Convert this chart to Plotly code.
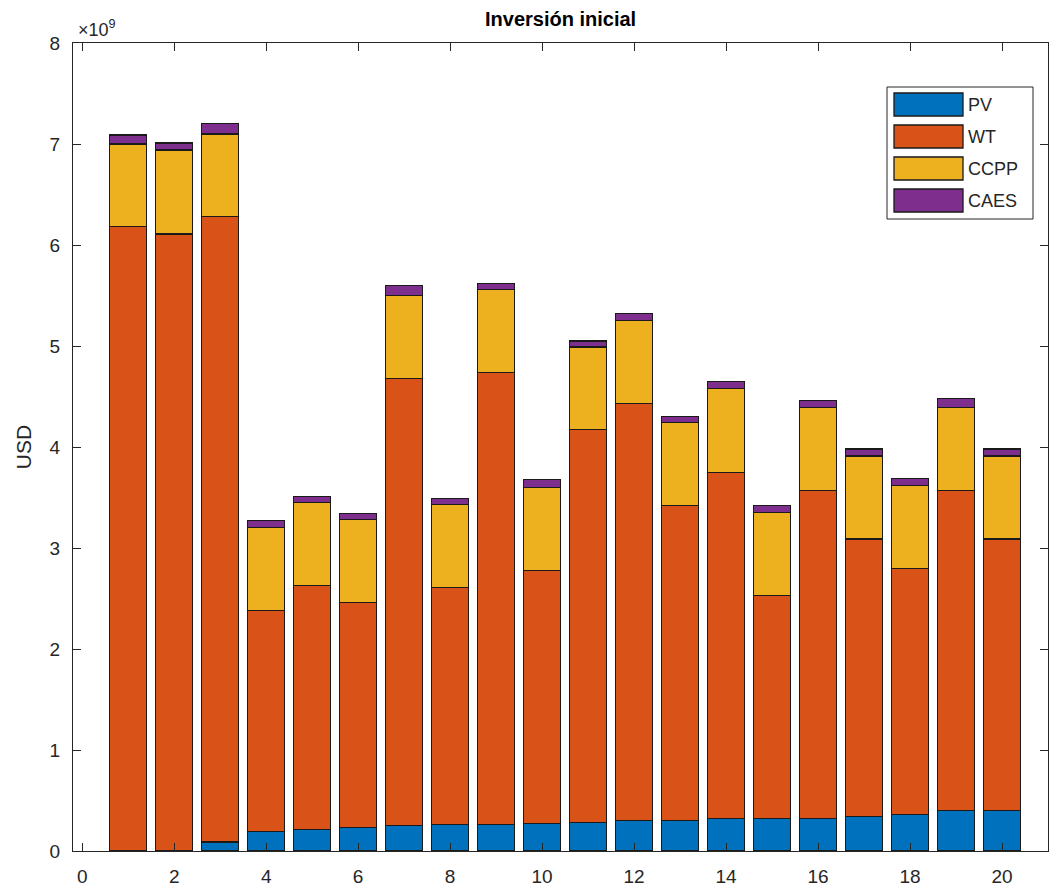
import plotly.graph_objects as go

# Initial investment per scenario, in units of 1e9 USD
scenarios = list(range(1, 21))
pv = [0.00, 0.00, 0.09, 0.19, 0.21, 0.23, 0.25, 0.26, 0.26, 0.27,
      0.28, 0.30, 0.30, 0.32, 0.32, 0.32, 0.34, 0.36, 0.40, 0.40]
wt = [6.18, 6.11, 6.19, 2.19, 2.42, 2.23, 4.43, 2.35, 4.48, 2.51,
      3.89, 4.13, 3.12, 3.43, 2.21, 3.25, 2.75, 2.44, 3.17, 2.69]
ccpp = [0.82, 0.83, 0.82, 0.82, 0.82, 0.82, 0.82, 0.82, 0.82, 0.82,
        0.82, 0.82, 0.82, 0.83, 0.82, 0.82, 0.82, 0.82, 0.82, 0.82]
caes = [0.09, 0.07, 0.10, 0.07, 0.06, 0.06, 0.10, 0.06, 0.06, 0.08,
        0.06, 0.07, 0.06, 0.07, 0.07, 0.07, 0.07, 0.07, 0.09, 0.07]

series_names = ["PV", "WT", "CCPP", "CAES"]
series_colors = ["#0072BD", "#D95319", "#EDB120", "#7E2F8E"]
x_ticks = list(range(0, 21, 2))
y_ticks = list(range(0, 9))

W, H = 1050, 895
L, R, T, B = 73, 2, 43, 44
AX = "#262626"
FONT = "Liberation Sans, Arial, sans-serif"

fig = go.Figure()
for name, vals, col in zip(series_names, [pv, wt, ccpp, caes], series_colors):
    fig.add_trace(go.Bar(
        x=scenarios, y=vals, name=name, width=0.8,
        marker=dict(color=col, line=dict(color="#1a1a1a", width=1.3)),
        showlegend=False,
    ))

fig.update_layout(
    width=W, height=H, barmode="stack",
    margin=dict(l=L, r=R, t=T, b=B, pad=0),
    paper_bgcolor="white", plot_bgcolor="white",
    font=dict(family=FONT, color=AX, size=19),
    xaxis=dict(range=[-0.2, 21], tickvals=x_ticks, ticks="inside", ticklen=8,
               tickcolor=AX, showline=True, linecolor=AX, linewidth=1.2,
               mirror="ticks", showgrid=False, zeroline=False,
               ticklabelstandoff=8,
               tickfont=dict(size=19, color=AX)),
    yaxis=dict(range=[0, 8], tickvals=y_ticks, ticks="inside", ticklen=8,
               tickcolor=AX, showline=True, linecolor=AX, linewidth=1.2,
               mirror="ticks", showgrid=False, zeroline=False,
               ticklabelstandoff=8,
               tickfont=dict(size=19, color=AX),
               title=dict(text="USD", font=dict(size=21, color=AX), standoff=12)),
)

def px_x(p):
    return (p - L) / (W - L - R)

def px_y(p):
    return (H - B - p) / (H - T - B)

# Title and axis exponent
fig.add_annotation(text="<b>Inversión inicial</b>", x=0.5, y=px_y(19), xref="paper",
                   yref="paper", showarrow=False, font=dict(size=20, color="black"),
                   xanchor="center", yanchor="middle")
fig.add_annotation(text="×10<sup>9</sup>", x=px_x(76), y=px_y(42), xref="paper",
                   yref="paper", showarrow=False, font=dict(size=18, color=AX),
                   xanchor="left", yanchor="bottom")

# Legend box with swatches
fig.add_shape(type="rect", xref="paper", yref="paper",
              x0=px_x(887), x1=px_x(1033), y0=px_y(219), y1=px_y(87),
              line=dict(color=AX, width=1), fillcolor="white")
row_tops = [93, 125, 157, 189]
for name, col, top in zip(series_names, series_colors, row_tops):
    fig.add_shape(type="rect", xref="paper", yref="paper",
                  x0=px_x(894), x1=px_x(963), y0=px_y(top + 23), y1=px_y(top),
                  line=dict(color="#1a1a1a", width=1.3), fillcolor=col)
    fig.add_annotation(text=name, x=px_x(966), y=px_y(top + 12), xref="paper",
                       yref="paper", showarrow=False, xanchor="left",
                       yanchor="middle", font=dict(size=18, color=AX))

fig.write_html("out.html")
